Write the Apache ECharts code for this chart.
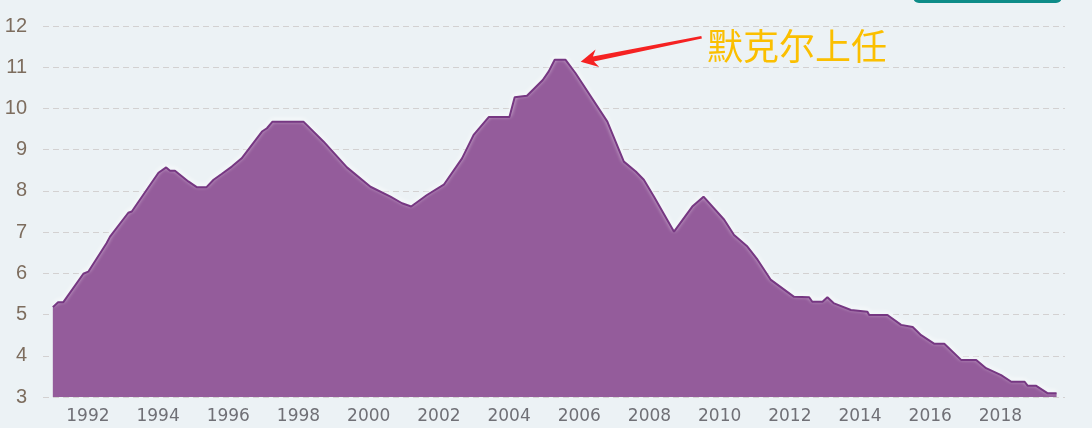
<!DOCTYPE html>
<html>
<head>
<meta charset="utf-8">
<script src="https://cdn.jsdelivr.net/npm/echarts@6/dist/echarts.min.js"></script>
<style>
html,body{margin:0;padding:0;background:#ECF2F5;}
#chart{width:1092px;height:428px;}
</style>
</head>
<body>
<div id="chart"></div>
<script>
// Unemployment rate (%), year as decimal
var years = [1991.00,1991.15,1991.30,1991.87,1992.01,1992.53,1992.63,1993.15,1993.25,1994.01,1994.23,1994.34,1994.48,1994.86,1995.10,1995.38,1995.58,1995.81,1996.10,1996.38,1996.96,1997.10,1997.26,1998.14,1998.71,1999.38,2000.05,2000.62,2000.95,2001.21,2001.66,2002.14,2002.66,2002.99,2003.42,2004.01,2004.16,2004.51,2004.96,2005.13,2005.30,2005.61,2005.89,2006.80,2007.27,2007.61,2007.84,2008.13,2008.70,2009.22,2009.54,2010.13,2010.41,2010.79,2011.08,2011.46,2012.12,2012.55,2012.64,2012.93,2013.07,2013.26,2013.74,2014.21,2014.26,2014.78,2015.17,2015.50,2015.74,2016.12,2016.40,2016.88,2017.31,2017.59,2018.02,2018.31,2018.69,2018.78,2019.02,2019.35,2019.60];
var rates = [5.18,5.30,5.30,5.99,6.04,6.73,6.89,7.47,7.50,8.44,8.57,8.49,8.49,8.23,8.09,8.09,8.27,8.41,8.59,8.79,9.44,9.52,9.68,9.68,9.20,8.57,8.10,7.86,7.70,7.62,7.90,8.15,8.79,9.36,9.79,9.79,10.27,10.31,10.69,10.90,11.18,11.18,10.86,9.68,8.71,8.47,8.27,7.86,7.01,7.62,7.86,7.30,6.93,6.65,6.33,5.84,5.43,5.42,5.31,5.31,5.42,5.27,5.11,5.07,4.99,4.99,4.75,4.70,4.50,4.29,4.29,3.90,3.90,3.70,3.53,3.37,3.37,3.27,3.27,3.09,3.09];
var xTickYears = [1992,1994,1996,1998,2000,2002,2004,2006,2008,2010,2012,2014,2016,2018];
var yTicks = [3,4,5,6,7,8,9,10,11,12];
var annotationText = '默克尔上任';

var seriesData = years.map(function (y, i) { return [y, rates[i]]; });

var chart = echarts.init(document.getElementById('chart'), null, {renderer: 'canvas'});
chart.setOption({
  backgroundColor: '#ECF2F5',
  animation: false,
  grid: {left: 43, right: 27, top: 26, bottom: 31, containLabel: false},
  xAxis: {
    type: 'value',
    min: 1990.72,
    max: 2019.84,
    axisLine: {show: false},
    axisTick: {show: false},
    splitLine: {show: false},
    axisLabel: {
      customValues: xTickYears,
      color: '#707076',
      fontFamily: 'DejaVu Sans',
      fontSize: 17,
      margin: 11,
      formatter: function (v) { return String(Math.round(v)); }
    }
  },
  yAxis: {
    type: 'value',
    min: yTicks[0],
    max: yTicks[yTicks.length - 1],
    interval: 1,
    axisLine: {show: false},
    axisTick: {show: false},
    axisLabel: {
      color: '#7d6d5e',
      fontFamily: 'Liberation Sans',
      fontSize: 20,
      margin: 16
    },
    splitLine: {
      show: true,
      lineStyle: {color: '#d3d1d1', type: [6, 4], width: 1}
    }
  },
  series: [{
    type: 'line',
    data: seriesData,
    showSymbol: false,
    symbol: 'none',
    lineStyle: {
      color: '#763782',
      width: 2,
      shadowColor: 'rgba(255,255,255,1)',
      shadowBlur: 4,
      shadowOffsetY: -2
    },
    areaStyle: {color: '#945c9b', opacity: 1, origin: 'start'},
    z: 2
  }],
  graphic: [
    {
      type: 'rect',
      shape: {x: 913, y: -10, width: 149, height: 13, r: 6},
      style: {fill: '#0e8c88'},
      z: 10
    },
    {
      type: 'polygon',
      shape: {points: [[580.7,61.7],[599.2,67.1],[593.9,61.6],[701.9,38.6],[701.3,36.0],[592.9,56.6],[595.6,49.5]]},
      style: {fill: '#f52222'},
      z: 10
    },
    {
      type: 'text',
      x: 707,
      y: 46,
      style: {
        text: annotationText,
        fill: '#fbbf00',
        font: '36px "Noto Sans CJK SC"',
        textVerticalAlign: 'middle',
        verticalAlign: 'middle'
      },
      z: 10
    }
  ]
});
</script>
</body>
</html>
